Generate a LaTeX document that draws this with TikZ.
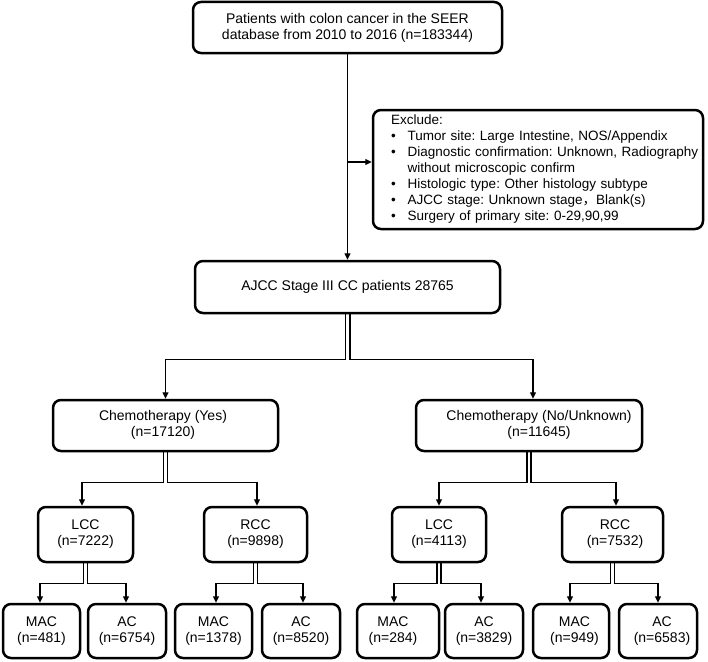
\documentclass[tikz,border=0pt]{standalone}
\usepackage{fontspec}
\setmainfont{Liberation Sans}
\newfontfamily\cjk{Noto Sans CJK SC}
\usetikzlibrary{arrows.meta}
\frenchspacing
\tikzset{
  box/.style={draw=black, line width=2.5pt, rounded corners=8pt, align=center,
    inner sep=0pt, font=\fontsize{14}{16}\selectfont},
  conn/.style={draw=black, line width=1.3pt, -{Triangle[length=6.5pt,width=6pt]}}
}
\begin{document}
\begin{tikzpicture}[x=1pt,y=-1pt]
\useasboundingbox (0,0) rectangle (708,661);
% nodes
\node[box, minimum width=309pt, minimum height=51pt] (top) at (347.5,27.5)
  {Patients with colon cancer in the SEER\\database from 2010 to 2016 (n=183344)};
\node[box, font=\fontsize{13.5}{16}\selectfont, minimum height=119pt, text width=294pt,
      inner xsep=18pt, align=left] (ex) at (538,169.5)
  {\begin{tabular}{@{}l@{\hspace{12pt}}l@{}}
   \multicolumn{2}{@{}l@{}}{Exclude:}\\
   • & Tumor site: Large Intestine, NOS/Appendix\\
   • & Diagnostic confirmation: Unknown, Radiography\\
     & without microscopic confirm\\
   • & Histologic type: Other histology subtype\\
   • & AJCC stage: Unknown stage{\cjk ，}Blank(s)\\
   • & Surgery of primary site: 0-29,90,99
   \end{tabular}};
\node[box, minimum width=305pt, minimum height=52pt] (ajcc) at (347.5,287)
  {AJCC Stage III CC patients 28765};
\node[box, minimum width=225pt, minimum height=51pt] (cy) at (165.5,425.5)
  {\hspace*{-5pt}\begin{tabular}{@{}c@{}}Chemotherapy (Yes)\\(n=17120)\end{tabular}};
\node[box, minimum width=226pt, minimum height=51pt] (cn) at (529,425.5)
  {\hspace*{20pt}\begin{tabular}{@{}c@{}}Chemotherapy (No/Unknown)\\(n=11645)\end{tabular}};
\node[box, minimum width=95pt, minimum height=55pt] (lcc1) at (85.5,534.5) {LCC\\(n=7222)};
\node[box, minimum width=103pt, minimum height=55pt] (rcc1) at (255.5,534.5) {RCC\\(n=9898)};
\node[box, minimum width=94pt, minimum height=55pt] (lcc2) at (439,534.5) {LCC\\(n=4113)};
\node[box, minimum width=101pt, minimum height=55pt] (rcc2) at (612.5,534.5)
  {\hspace*{5pt}\begin{tabular}{@{}c@{}}RCC\\(n=7532)\end{tabular}};
\node[box, minimum width=77pt, minimum height=54pt] (mac1) at (41.5,631) {MAC\\(n=481)};
\node[box, minimum width=78pt, minimum height=54pt] (ac1) at (127,631) {AC\\(n=6754)};
\node[box, minimum width=77pt, minimum height=54pt] (mac2) at (213.5,631) {MAC\\(n=1378)};
\node[box, minimum width=78pt, minimum height=54pt] (ac2) at (301,631) {AC\\(n=8520)};
\node[box, minimum width=82pt, minimum height=54pt] (mac3) at (398,631)
  {\hspace*{-10pt}\begin{tabular}{@{}c@{}}MAC\\(n=284)\end{tabular}};
\node[box, minimum width=78pt, minimum height=54pt] (ac3) at (484,631) {AC\\(n=3829)};
\node[box, minimum width=76pt, minimum height=54pt] (mac4) at (571,631)
  {\hspace*{7pt}\begin{tabular}{@{}c@{}}MAC\\(n=949)\end{tabular}};
\node[box, minimum width=78pt, minimum height=54pt] (ac4) at (658,631)
  {\hspace*{8pt}\begin{tabular}{@{}c@{}}AC\\(n=6583)\end{tabular}};
% connectors
\draw[conn] (top.south) -- (ajcc.north);
\coordinate (j) at (347.5,162);
\draw[conn] (j) -- (j -| ex.west);
\draw[conn] ([xshift=-2pt]ajcc.south) -- ++(0,45) -| (cy.north);
\draw[conn] ([xshift=2.5pt]ajcc.south) -- ++(0,45) -| ([xshift=4pt]cn.north);
\draw[conn] ([xshift=-2pt]cy.south) -- ++(0,30) -| ([xshift=-3.5pt]lcc1.north);
\draw[conn] ([xshift=2pt]cy.south) -- ++(0,30) -| ([xshift=1.5pt]rcc1.north);
\draw[conn] ([xshift=-2pt]cn.south) -- ++(0,30) -| (lcc2.north);
\draw[conn] ([xshift=2pt]cn.south) -- ++(0,30) -| ([xshift=3.5pt]rcc2.north);
\draw[conn] ([xshift=-2pt]lcc1.south) -- ++(0,20) -| ([xshift=-1.5pt]mac1.north);
\draw[conn] ([xshift=2pt]lcc1.south) -- ++(0,20) -| ([xshift=-1pt]ac1.north);
\draw[conn] ([xshift=-2pt]rcc1.south) -- ++(0,20) -| ([xshift=2.5pt]mac2.north);
\draw[conn] ([xshift=2pt]rcc1.south) -- ++(0,20) -| ([xshift=2pt]ac2.north);
\draw[conn] ([xshift=-2pt]lcc2.south) -- ++(0,20) -| ([xshift=-4pt]mac3.north);
\draw[conn] ([xshift=2pt]lcc2.south) -- ++(0,20) -| ([xshift=-3pt]ac3.north);
\draw[conn] ([xshift=-2pt]rcc2.south) -- ++(0,20) -| ([xshift=-1pt]mac4.north);
\draw[conn] ([xshift=2pt]rcc2.south) -- ++(0,20) -| (ac4.north);
\end{tikzpicture}
\end{document}
